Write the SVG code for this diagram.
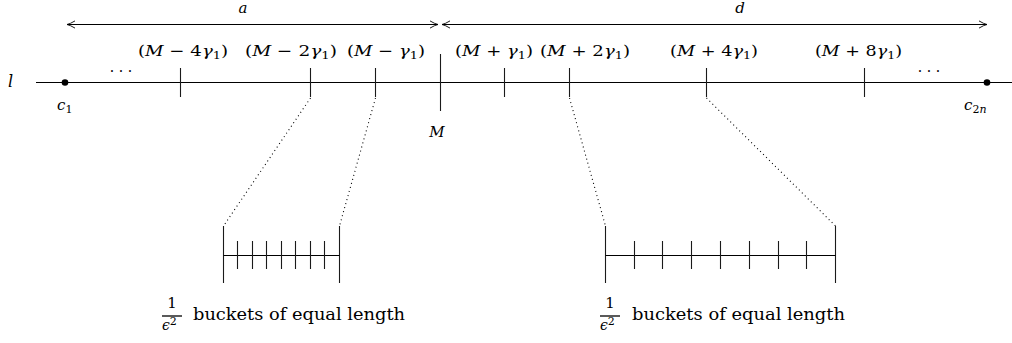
<svg xmlns="http://www.w3.org/2000/svg" width="1012" height="343" viewBox="0 0 1012 343">
<style>
.ln{stroke:#000;stroke-width:1.1;fill:none}
.tk{stroke:#1a1a1a;stroke-width:1.1;fill:none}
.dot{stroke:#000;stroke-width:1.1;stroke-dasharray:1 3.2;fill:none}
text{font-family:"DejaVu Serif","Liberation Serif",serif;fill:#000}
.lab{font-size:15.5px}
.it{font-style:italic}
.sub{font-size:11px}
.txt{font-size:16px}
</style>
<defs>
<marker id="ah" markerUnits="userSpaceOnUse" markerWidth="14" markerHeight="10" viewBox="-10 -5 12 10" refX="0" refY="0" orient="auto-start-reverse">
<path d="M-8,-3.6 Q-3,-0.6 0,0 Q-3,0.6 -8,3.6" stroke="#000" stroke-width="0.9" fill="none"/>
</marker>
</defs>
<g id="connectors">
<line class="ln" x1="67" y1="24.5" x2="438" y2="24.5" marker-start="url(#ah)" marker-end="url(#ah)"/>
<line class="ln" x1="442" y1="24.5" x2="987" y2="24.5" marker-start="url(#ah)" marker-end="url(#ah)"/>
<line class="dot" x1="310.5" y1="98" x2="223.5" y2="226"/>
<line class="dot" x1="375.5" y1="98" x2="339.5" y2="226"/>
<line class="dot" x1="569.5" y1="98" x2="605.5" y2="226"/>
<line class="dot" x1="706.5" y1="98" x2="835.5" y2="226"/>
</g>
<g id="axis">
<line class="ln" x1="36" y1="82.5" x2="1012" y2="82.5"/>
<text x="8" y="87" class="it" font-size="16">l</text>
</g>
<g id="arrow-labels">
<text x="243" y="13" class="it" font-size="15" text-anchor="middle">a</text>
<text x="740" y="13" class="it" font-size="15" text-anchor="middle">d</text>
</g>
<g id="c1">
<circle cx="65" cy="82.5" r="3.3" fill="#000"/>
<text x="57" y="110" class="it" font-size="15">c<tspan class="sub" dy="3" font-style="normal">1</tspan></text>
</g>
<g id="c2n">
<circle cx="987" cy="82.5" r="3.3" fill="#000"/>
<text x="964" y="110" class="it" font-size="15">c<tspan class="sub" dy="3" font-style="normal">2</tspan><tspan class="sub">n</tspan></text>
</g>
<g id="dots">
<text x="121" y="76" font-size="14" text-anchor="middle">· · ·</text>
<text x="929" y="76" font-size="14" text-anchor="middle">· · ·</text>
</g>
<g id="tick-m4">
<line class="tk" x1="180.5" y1="68" x2="180.5" y2="97"/>
<text x="138" y="56" class="lab" textLength="90" lengthAdjust="spacingAndGlyphs">(<tspan class="it">M</tspan> − 4<tspan class="it">γ</tspan><tspan class="sub" dy="3">1</tspan><tspan dy="-3">)</tspan></text>
</g>
<g id="tick-m2">
<line class="tk" x1="310.5" y1="68" x2="310.5" y2="97"/>
<text x="245" y="56" class="lab" textLength="92" lengthAdjust="spacingAndGlyphs">(<tspan class="it">M</tspan> − 2<tspan class="it">γ</tspan><tspan class="sub" dy="3">1</tspan><tspan dy="-3">)</tspan></text>
</g>
<g id="tick-m1">
<line class="tk" x1="375.5" y1="68" x2="375.5" y2="97"/>
<text x="347" y="56" class="lab" textLength="78" lengthAdjust="spacingAndGlyphs">(<tspan class="it">M</tspan> − <tspan class="it">γ</tspan><tspan class="sub" dy="3">1</tspan><tspan dy="-3">)</tspan></text>
</g>
<g id="tick-M">
<line class="tk" x1="440.5" y1="54" x2="440.5" y2="111"/>
<text x="437" y="137" class="it" font-size="15" text-anchor="middle">M</text>
</g>
<g id="tick-p1">
<line class="tk" x1="504.5" y1="68" x2="504.5" y2="97"/>
<text x="455" y="56" class="lab" textLength="78" lengthAdjust="spacingAndGlyphs">(<tspan class="it">M</tspan> + <tspan class="it">γ</tspan><tspan class="sub" dy="3">1</tspan><tspan dy="-3">)</tspan></text>
</g>
<g id="tick-p2">
<line class="tk" x1="569.5" y1="68" x2="569.5" y2="97"/>
<text x="540" y="56" class="lab" textLength="90" lengthAdjust="spacingAndGlyphs">(<tspan class="it">M</tspan> + 2<tspan class="it">γ</tspan><tspan class="sub" dy="3">1</tspan><tspan dy="-3">)</tspan></text>
</g>
<g id="tick-p4">
<line class="tk" x1="706.5" y1="68" x2="706.5" y2="97"/>
<text x="670" y="56" class="lab" textLength="88" lengthAdjust="spacingAndGlyphs">(<tspan class="it">M</tspan> + 4<tspan class="it">γ</tspan><tspan class="sub" dy="3">1</tspan><tspan dy="-3">)</tspan></text>
</g>
<g id="tick-p8">
<line class="tk" x1="864.5" y1="68" x2="864.5" y2="97"/>
<text x="815" y="56" class="lab" textLength="87" lengthAdjust="spacingAndGlyphs">(<tspan class="it">M</tspan> + 8<tspan class="it">γ</tspan><tspan class="sub" dy="3">1</tspan><tspan dy="-3">)</tspan></text>
</g>
<g id="bucket-left">
<line class="tk" x1="223.5" y1="226" x2="223.5" y2="283"/>
<line class="tk" x1="339.5" y1="226" x2="339.5" y2="283"/>
<line class="ln" x1="223.5" y1="255.5" x2="339.5" y2="255.5"/>
<path class="tk" d="M237.5,241V269M252.5,241V269M266.5,241V269M281.5,241V269M295.5,241V269M310.5,241V269M324.5,241V269"/>
<text x="172" y="308" font-size="15" text-anchor="middle">1</text>
<line x1="162" y1="316" x2="182" y2="316" stroke="#000" stroke-width="1.3"/>
<text x="162" y="330" class="it" font-size="14">ϵ<tspan class="sub" font-style="normal" dy="-5">2</tspan></text>
<text x="193" y="320" class="txt" textLength="212" lengthAdjust="spacingAndGlyphs">buckets of equal length</text>
</g>
<g id="bucket-right">
<line class="tk" x1="605.5" y1="226" x2="605.5" y2="283"/>
<line class="tk" x1="835.5" y1="226" x2="835.5" y2="283"/>
<line class="ln" x1="605.5" y1="255.5" x2="835.5" y2="255.5"/>
<path class="tk" d="M634.5,241V269M662.5,241V269M691.5,241V269M720.5,241V269M749.5,241V269M778.5,241V269M806.5,241V269"/>
<text x="610" y="308" font-size="15" text-anchor="middle">1</text>
<line x1="600" y1="316" x2="620" y2="316" stroke="#000" stroke-width="1.3"/>
<text x="600" y="330" class="it" font-size="14">ϵ<tspan class="sub" font-style="normal" dy="-5">2</tspan></text>
<text x="632" y="320" class="txt" textLength="213" lengthAdjust="spacingAndGlyphs">buckets of equal length</text>
</g>
</svg>
